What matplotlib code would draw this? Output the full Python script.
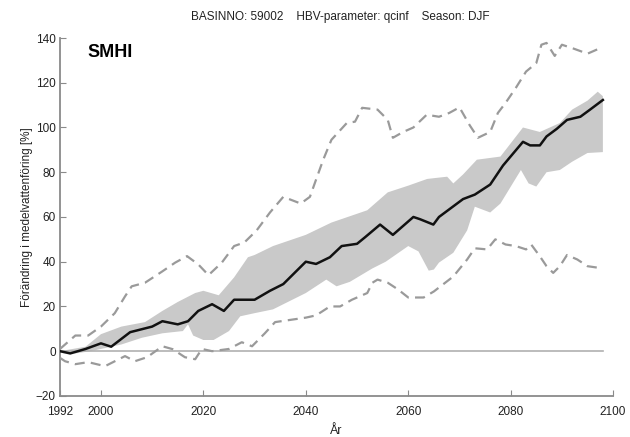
import numpy as np
import matplotlib
matplotlib.use('Agg')
import matplotlib.pyplot as plt

plt.rcParams['font.family'] = ['Liberation Sans', 'DejaVu Sans']

# median (black line)
med_year = [1992, 1994, 1997, 2000, 2002, 2005.7, 2010, 2012, 2015, 2017, 2019, 2021.7,
            2024, 2026, 2030, 2033, 2035.6, 2040, 2042, 2044.7, 2047, 2050, 2051.6, 2054.5,
            2057, 2061, 2062.3, 2064.9, 2066, 2070.7, 2073, 2076, 2078.5, 2082.4, 2083.8,
            2085.7, 2087, 2089, 2091, 2093.6, 2095.5, 2098]
med_val = [0, -1, 1, 3.5, 2, 8.5, 11, 13.4, 12, 13.4, 18, 21,
           18, 23, 23, 27, 30, 40, 39, 42, 47, 48, 51, 56.6,
           52, 60, 59, 56.6, 60, 68, 70, 74.5, 83, 93.6, 92,
           92, 96, 99.4, 103.4, 104.8, 108, 112.3]

# grey band, upper edge
band_up_year = [1992, 1997, 2000, 2004, 2008.6, 2012, 2015, 2018.4, 2020, 2023, 2026, 2028.7,
                2030, 2033.6, 2040, 2045, 2052, 2056, 2060, 2063.7, 2066, 2067.6, 2068.8,
                2070.7, 2073.4, 2078, 2082.4, 2085.7, 2089.6, 2092, 2095, 2097, 2098]
band_up_val = [0, 2, 7.6, 11, 13, 18, 22, 26, 27, 25, 33, 42,
               43, 47, 52, 57.5, 63, 71, 74, 77, 77.6, 78, 75,
               79, 85.6, 87, 100, 98, 102, 108, 112, 116, 114]

# grey band, lower edge
band_lo_year = [1992, 1995, 1998, 2000, 2004, 2008, 2012, 2016, 2017, 2018, 2020, 2022, 2025,
                2027.2, 2030, 2033.6, 2040, 2044, 2046, 2048.6, 2053, 2055.6, 2060, 2062, 2064,
                2065, 2066, 2068.8, 2071.5, 2073, 2076, 2078, 2082, 2083.5, 2085, 2087, 2089.6,
                2092, 2095, 2098]
band_lo_val = [0, -1, 0, 1, 3, 6, 8, 9, 12, 7, 5, 5, 9,
               15.6, 17, 18.7, 26, 32, 29, 31, 37, 40, 47, 44.6, 36,
               36.5, 39.6, 44, 54, 64.6, 62, 66, 81, 75, 73.6, 80, 81,
               84.7, 88.6, 89]

# dashed upper
hi_year = [1992, 1993, 1995, 1997.5, 2000, 2002.7, 2004.7, 2006, 2008.6, 2012, 2014.5, 2016.8,
           2019, 2021, 2023.6, 2026, 2028, 2030.4, 2033, 2035.6, 2039, 2040.8, 2042, 2043.4,
           2045, 2048, 2049.6, 2051, 2054, 2056, 2057, 2059, 2061, 2063.6, 2066, 2068, 2070,
           2072, 2073.6, 2076, 2077.5, 2079, 2081, 2083, 2085, 2086, 2087, 2088.6, 2090, 2092,
           2095, 2096, 2098]
hi_val = [1, 3, 7, 7, 11, 17, 24.5, 29, 30.6, 35.7, 39.6, 42.5,
          38.8, 34, 39.6, 47, 48.6, 54, 62, 69, 66, 69, 76.7, 85.6,
          94.5, 102, 102.6, 108.8, 108, 103.4, 95.4, 98, 100, 105.7, 104.8, 106.5, 109,
          101, 95.4, 98, 106.5, 111, 117.7, 125, 128.8, 137, 137.8, 132, 137, 135.5,
          133, 134, 136]

# dashed lower
lw_year = [1992, 1993, 1995, 1997.5, 2000.8, 2004.7, 2006.6, 2009, 2012, 2014, 2016.4, 2018.4,
           2019.7, 2021.7, 2025, 2027.5, 2029.5, 2032, 2034, 2037, 2040, 2042, 2044.7, 2046.7,
           2049, 2052, 2053, 2054, 2056, 2058, 2060, 2063, 2065, 2068.8, 2071.5, 2073, 2075.4,
           2077, 2079, 2081, 2083, 2084, 2085.7, 2087, 2088.3, 2089.6, 2091, 2093, 2095, 2098]
lw_val = [-3, -4.5, -5.8, -4.9, -6.7, -2.2, -4.5, -2.7, 2.2, 0.9, -2.7, -3.6,
          1, 0, 1, 4, 2.2, 8, 13, 14, 15, 16, 20, 20,
          23, 26, 30.6, 32, 30.6, 27.6, 24, 24, 26.7, 33.4, 41, 46, 45.5,
          50, 47.7, 47, 45.5, 47.7, 42.4, 38, 35, 38, 43, 41, 38, 37]

x_ticks = [1992, 2000, 2020, 2040, 2060, 2080, 2100]
y_ticks = [-20, 0, 20, 40, 60, 80, 100, 120, 140]

fig = plt.figure(figsize=(6.3, 4.37), dpi=100)
ax = fig.add_axes([0.0952, 0.094, 0.878, 0.819])

# band polygon
ax.fill(np.concatenate([band_up_year, band_lo_year[::-1]]),
        np.concatenate([band_up_val, band_lo_val[::-1]]),
        color='#c9c9c9', lw=0, zorder=1)
ax.axhline(0, xmin=0, xmax=(2098 - 1992) / 108, color='#b0b0b0', lw=1.2, zorder=2)
ax.plot(hi_year, hi_val, color='#9a9a9a', lw=1.6, dashes=(4.5, 2.8), zorder=3)
ax.plot(lw_year, lw_val, color='#9a9a9a', lw=1.6, dashes=(4.5, 2.8), zorder=3)
ax.plot(med_year, med_val, color='#111111', lw=1.8, zorder=4)

ax.set_xlim(1992, 2100)
ax.set_ylim(-20, 140)
ax.set_xticks(x_ticks)
ax.set_yticks(y_ticks)
for s in ['top', 'right']:
    ax.spines[s].set_visible(False)
for s in ['left', 'bottom']:
    ax.spines[s].set_color('#8a8a8a')
    ax.spines[s].set_linewidth(1.3)
ax.tick_params(direction='in', length=4, color='#8a8a8a', labelsize=8.5,
               labelcolor='#222222', pad=3)
ax.tick_params(axis='x', pad=7)

ax.set_xlabel('År', fontsize=9, color='#222222', labelpad=5)
ax.set_ylabel('Förändring i medelvattenföring [%]', fontsize=8.5, color='#222222', labelpad=2)

fig.text(0.54, 0.962, 'BASINNO: 59002    HBV-parameter: qcinf    Season: DJF',
         ha='center', va='center', fontsize=8.5, color='#222222')
ax.text(2001.8, 133.5, 'SMHI', ha='center', va='center', fontsize=13, fontweight='heavy',
        color='black', fontstretch='condensed')

fig.savefig('out.png', dpi=100)
